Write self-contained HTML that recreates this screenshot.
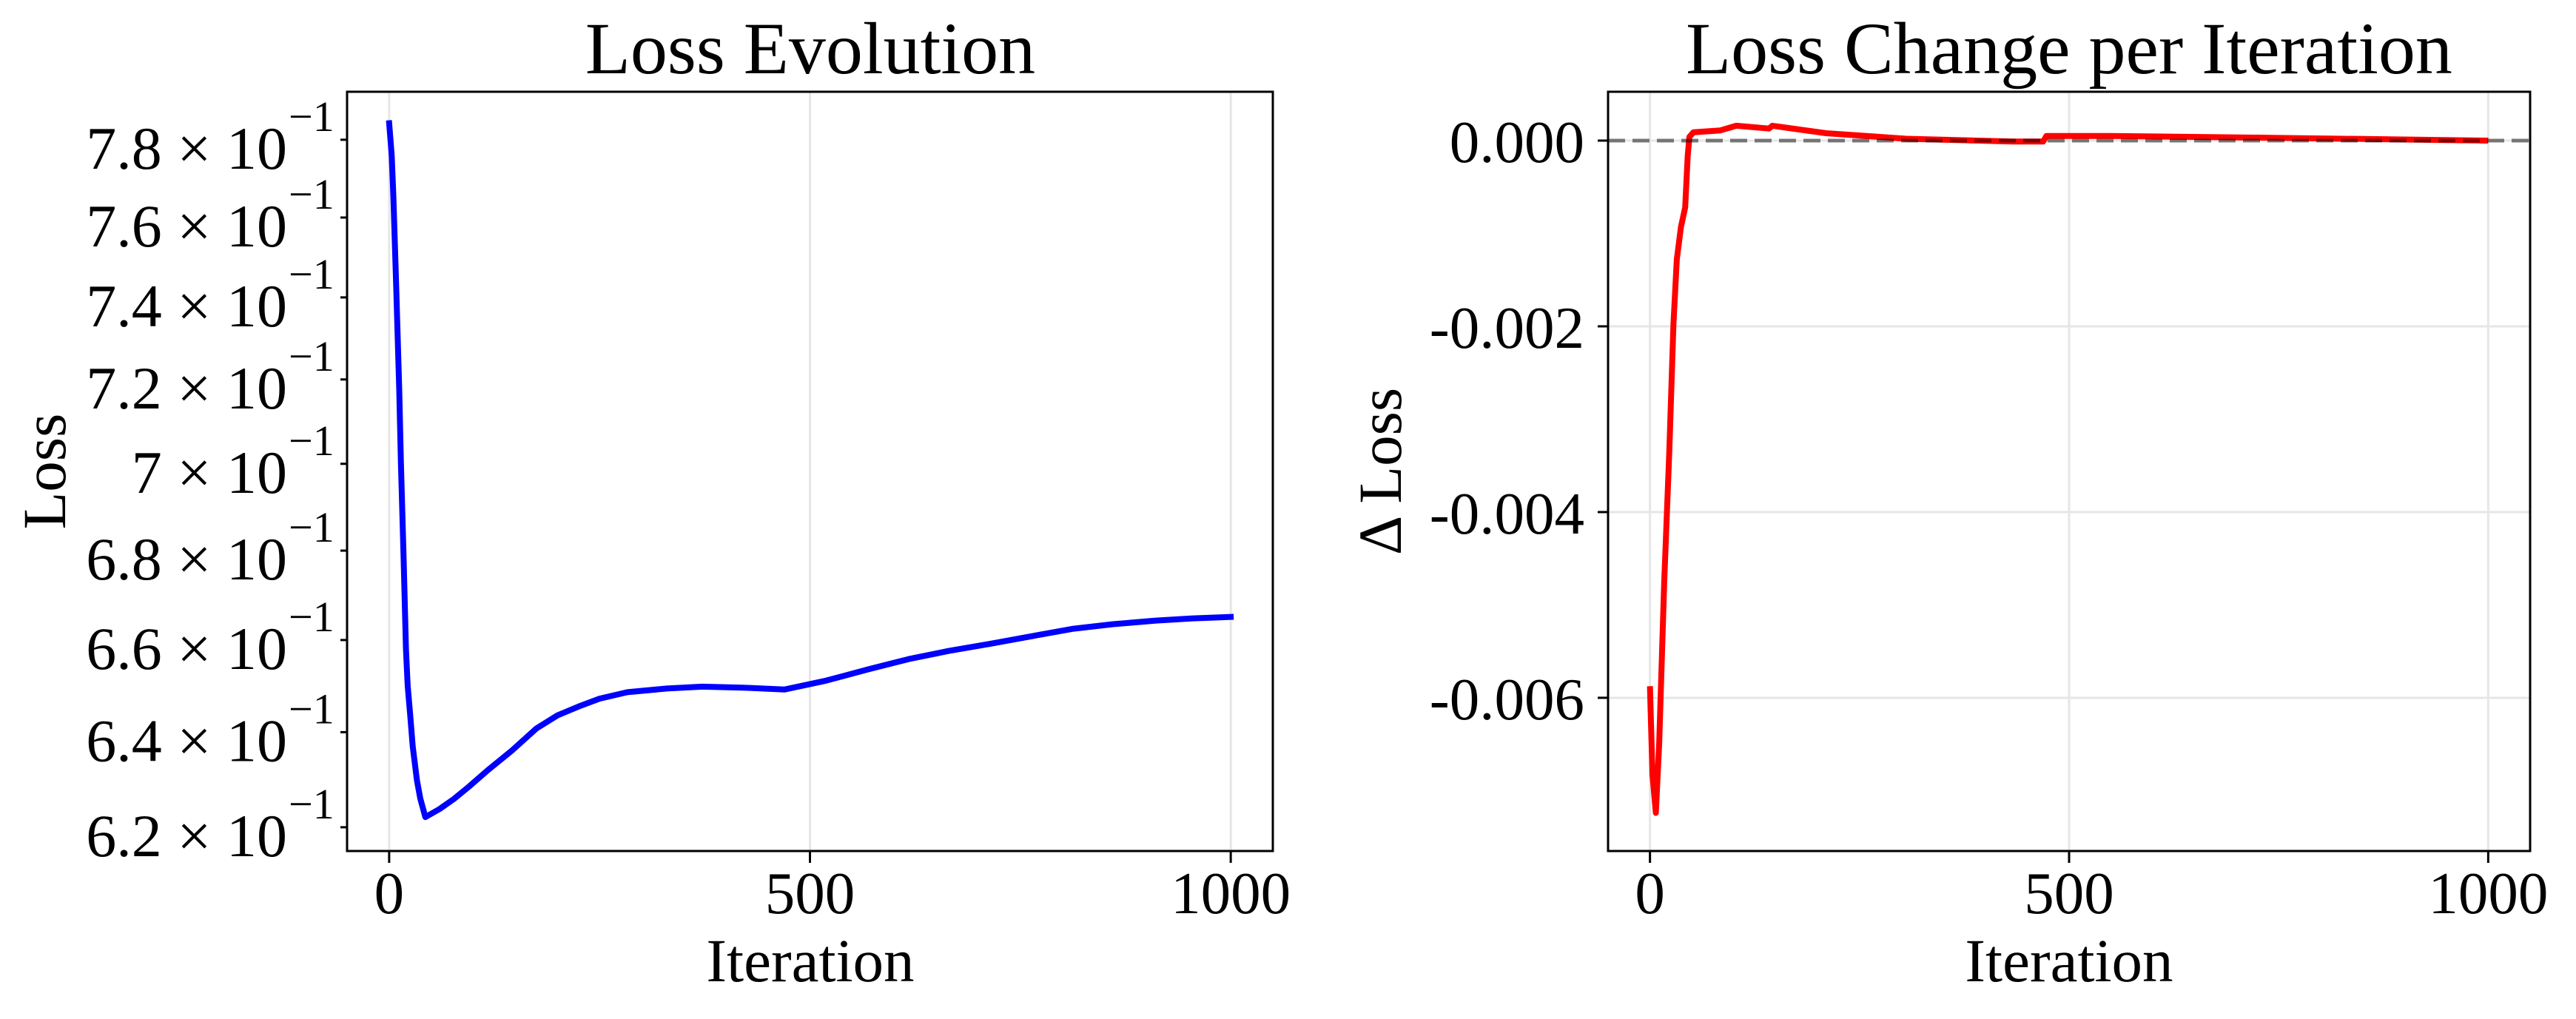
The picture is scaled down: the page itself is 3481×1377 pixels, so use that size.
<!DOCTYPE html>
<html><head><meta charset="utf-8"><style>
html,body{margin:0;padding:0;background:#fff}
svg{display:block}
text{font-family:"Liberation Serif","DejaVu Serif",serif;fill:#000}
</style></head><body>
<svg id="chart" width="3481" height="1377" viewBox="0 0 3481 1377" xmlns="http://www.w3.org/2000/svg">
<rect width="3481" height="1377" fill="#fff"/>
<g id="left"></g>
<g id="right"></g>
</svg>
<script>
const xTicks = [0, 500, 1000];
const lossIters = [0,3,5,8,12,14,17,20,22,25,28,33,37,43,60,77,95,117,146,175,200,225,250,283,330,372,420,470,519,570,617,665,715,765,813,860,911,955,1000];
const lossValues = [0.7843,0.7760,0.7657,0.7450,0.7175,0.7000,0.6796,0.6579,0.6500,0.6437,0.6370,0.6298,0.6260,0.6221,0.6238,0.6259,0.6285,0.6319,0.6361,0.6408,0.6436,0.6455,0.6472,0.6486,0.6494,0.6498,0.6496,0.6492,0.6511,0.6536,0.6558,0.6576,0.6592,0.6609,0.6625,0.6635,0.6643,0.6648,0.6651];
const logTickValues = [0.62,0.64,0.66,0.68,0.70,0.72,0.74,0.76,0.78];
const logTickMantissa = ["6.2","6.4","6.6","6.8","7","7.2","7.4","7.6","7.8"];
const deltaIters = [0,3,7,11,17,23,28,32,37,42,45,47,52,84,103,142,146,210,306,433,469,473,549,743,1000];
const deltaValues = [-0.005875,-0.00683,-0.00724,-0.00649,-0.00475,-0.00336,-0.00197,-0.00128,-0.00093,-0.00072,-0.00017,0.00004,0.00009,0.00011,0.00016,0.00013,0.00016,0.00008,0.00002,-0.00001,-0.00001,0.00005,0.00005,0.00003,0];
const deltaTicks = [0,-0.002,-0.004,-0.006];
const deltaTickLabels = ["0.000","-0.002","-0.004","-0.006"];

const NS="http://www.w3.org/2000/svg";
function mk(parent,tag,attrs,txt){const e=document.createElementNS(NS,tag);for(const k in attrs)e.setAttribute(k,attrs[k]);if(txt!==undefined)e.textContent=txt;parent.appendChild(e);return e;}

// left panel
const L={x0:469,x1:1720,y0:124,y1:1150};
const lx=v=>L.x0+(v+50)/1100*(L.x1-L.x0);
const lyTop=0.7926, lyBot=0.6151;
const ly=v=>L.y1-(Math.log(v)-Math.log(lyBot))/(Math.log(lyTop)-Math.log(lyBot))*(L.y1-L.y0);
const gl=document.getElementById('left');
xTicks.forEach(t=>{
  const g=mk(gl,'line',{x1:lx(t),x2:lx(t),y1:L.y0,y2:L.y1,stroke:'#e6e6e6','stroke-width':3});
  
  
});
{
  const d=lossIters.map((x,i)=>(i?'L':'M')+lx(x).toFixed(1)+','+ly(lossValues[i]).toFixed(1)).join(' ');
  const p=mk(gl,'path',{d:d,fill:'none',stroke:'#0000ff','stroke-width':8,'stroke-linejoin':'round','stroke-linecap':'square'});
  
  
}
{
  const r=mk(gl,'rect',{x:L.x0,y:L.y0,width:L.x1-L.x0,height:L.y1-L.y0,fill:'none',stroke:'#000','stroke-width':3});
  
  
}
xTicks.forEach(t=>{
  mk(gl,'line',{x1:lx(t),x2:lx(t),y1:L.y1,y2:L.y1+16,stroke:'#000','stroke-width':3});
  const tx=mk(gl,'text',{x:lx(t),y:1234,'text-anchor':'middle','font-size':81},String(t));
  
  
});
logTickValues.forEach((v,i)=>{
  const y=ly(v);
  mk(gl,'line',{x1:L.x0-9,x2:L.x0,y1:y,y2:y,stroke:'#000','stroke-width':3});
  const t=mk(gl,'text',{x:388,y:y+39,'text-anchor':'end','font-size':82},logTickMantissa[i]+' \u00d7 10');
  
  
  const s=mk(gl,'text',{x:390,y:y-12,'font-size':58},'\u22121');
  
  
});
{
  const t=mk(gl,'text',{x:1095,y:99,'text-anchor':'middle','font-size':100},'Loss Evolution');
  
  
  const xl=mk(gl,'text',{x:1095,y:1326,'text-anchor':'middle','font-size':83},'Iteration');
  
  
  const yl=mk(gl,'text',{x:0,y:0,'text-anchor':'middle','font-size':83,transform:'translate(88,637) rotate(-90)'},'Loss');
  
  
}

// right panel
const R={x0:2173,x1:3419,y0:124,y1:1150};
const rx=v=>R.x0+(v+50)/1100*(R.x1-R.x0);
const ryTop=0.000526, ryBot=-0.00765;
const ry=v=>R.y1-(v-ryBot)/(ryTop-ryBot)*(R.y1-R.y0);
const gr=document.getElementById('right');
xTicks.forEach(t=>{
  const g=mk(gr,'line',{x1:rx(t),x2:rx(t),y1:R.y0,y2:R.y1,stroke:'#e6e6e6','stroke-width':3});
  
  
});
deltaTicks.forEach(t=>{
  const g=mk(gr,'line',{x1:R.x0,x2:R.x1,y1:ry(t),y2:ry(t),stroke:'#e6e6e6','stroke-width':3});
  
  
});
{
  const d=deltaIters.map((x,i)=>(i?'L':'M')+rx(x).toFixed(1)+','+ry(deltaValues[i]).toFixed(1)).join(' ');
  const p=mk(gr,'path',{d:d,fill:'none',stroke:'#ff0000','stroke-width':8,'stroke-linejoin':'round'});
  
  
  const z=mk(gr,'line',{x1:R.x0,x2:R.x1,y1:ry(0),y2:ry(0),stroke:'#000','stroke-opacity':0.5,'stroke-width':5,'stroke-dasharray':'23 10'});
  
  
}
{
  const r=mk(gr,'rect',{x:R.x0,y:R.y0,width:R.x1-R.x0,height:R.y1-R.y0,fill:'none',stroke:'#000','stroke-width':3});
  
  
}
xTicks.forEach(t=>{
  mk(gr,'line',{x1:rx(t),x2:rx(t),y1:R.y1,y2:R.y1+16,stroke:'#000','stroke-width':3});
  const tx=mk(gr,'text',{x:rx(t),y:1234,'text-anchor':'middle','font-size':81},String(t));
  
  
});
deltaTicks.forEach((t,i)=>{
  const y=ry(t);
  mk(gr,'line',{x1:R.x0-14,x2:R.x0,y1:y,y2:y,stroke:'#000','stroke-width':3});
  const tx=mk(gr,'text',{x:2141,y:y+29,'text-anchor':'end','font-size':81},deltaTickLabels[i]);
  
  
});
{
  const t=mk(gr,'text',{x:2796,y:99,'text-anchor':'middle','font-size':100},'Loss Change per Iteration');
  
  
  const xl=mk(gr,'text',{x:2796,y:1326,'text-anchor':'middle','font-size':83},'Iteration');
  
  
  const yl=mk(gr,'text',{x:0,y:0,'text-anchor':'middle','font-size':83,transform:'translate(1893,637) rotate(-90)'},'\u0394 Loss');
  
  
}
</script>
</body></html>
